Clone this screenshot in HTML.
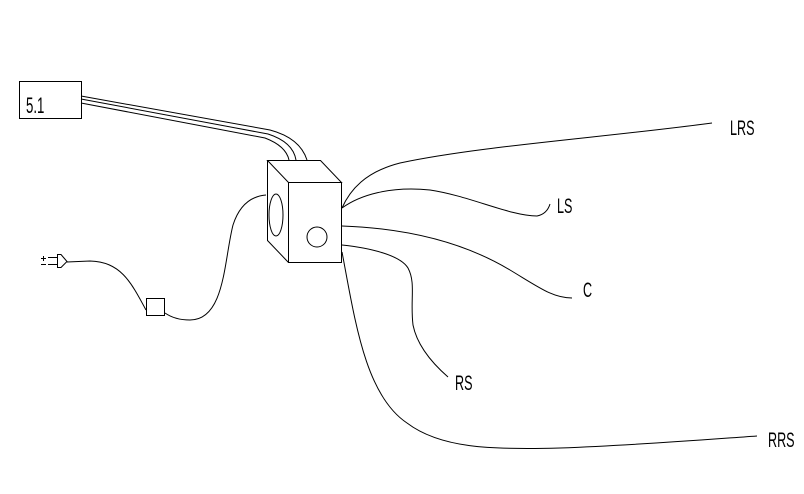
<!DOCTYPE html>
<html><head><style>
html,body{margin:0;padding:0;background:#fff;width:804px;height:494px;overflow:hidden}
text{font-family:"Liberation Sans",sans-serif;font-size:21px;fill:#000}
</style></head><body>
<svg width="804" height="494" viewBox="0 0 804 494" xmlns="http://www.w3.org/2000/svg" fill="none" stroke="#000" stroke-width="1">
<rect x="19.5" y="81.5" width="62" height="37"/>
<text x="26" y="113" stroke="none" style="font-size:22px" transform="translate(26 0) scale(0.6 1) translate(-26 0)">5.1</text>
<path d="M81,96 L270,130 Q300,138 307,160"/>
<path d="M81,99 L268,134 Q293,142 296,160"/>
<path d="M81,103 L265,138 Q286,146 289,160"/>
<path d="M267.5,160.5 L320.5,160.5 L341.5,182.5 L288.5,182.5 Z"/>
<path d="M267.5,160.5 L267.5,240.5 L288.5,262.5"/>
<rect x="288.5" y="182.5" width="53" height="80"/>
<ellipse cx="276" cy="215" rx="7" ry="21"/>
<circle cx="317" cy="237" r="10"/>
<path d="M266,195 Q242,197 233,225 C224,260 225,320 190,320 Q175,320 165,313"/>
<rect x="146.5" y="298.5" width="18" height="17"/>
<path d="M146,310 C130,280 120,262 90,261 L67,262"/>
<path d="M57.5,254.5 L61,254.5 L67,261.5 L61,267.5 L57.5,267.5 Z"/>
<path d="M48,257.5 L57,257.5 M48,264.5 L57,264.5 M41,264.5 L46,264.5 M41,258.5 L46,258.5 M43.5,256 L43.5,261"/>
<path d="M342,208 C350,190 365,172 400,163 C480,146 600,138 712,123"/>
<text x="730" y="135" stroke="none" transform="translate(730 0) scale(0.6 1) translate(-730 0)">LRS</text>
<path d="M342,208 C360,195 390,186 430,190 C470,196 510,216 537,216 Q547,214 550,204"/>
<text x="557" y="213" stroke="none" transform="translate(557 0) scale(0.6 1) translate(-557 0)">LS</text>
<path d="M342,226 C400,228 460,240 510,270 C540,288 553,298 572,298"/>
<text x="583" y="297" stroke="none" transform="translate(583 0) scale(0.6 1) translate(-583 0)">C</text>
<path d="M342,245 C370,248 400,255 408,268 C416,283 410,300 413,325 C418,350 440,370 448,377"/>
<text x="455" y="390" stroke="none" transform="translate(455 0) scale(0.6 1) translate(-455 0)">RS</text>
<path d="M342,252 C355,320 365,395 407,423 C440,448 490,450 560,448 C640,445 700,440 757,436"/>
<text x="768" y="447" stroke="none" transform="translate(768 0) scale(0.6 1) translate(-768 0)">RRS</text>
</svg>
</body></html>
